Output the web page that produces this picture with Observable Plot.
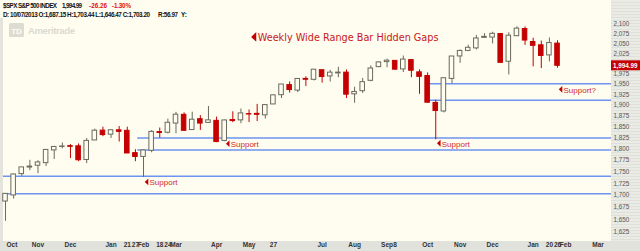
<!DOCTYPE html>
<html><head><meta charset="utf-8">
<script src="https://cdn.jsdelivr.net/npm/d3@7"></script>
<script src="https://cdn.jsdelivr.net/npm/@observablehq/plot@0.6"></script>
<style>html,body{margin:0;padding:0;background:#fffdf0;overflow:hidden;}</style>
</head><body><div id="chart"></div>
<script>
// ---- data (weekly $SPX candles) ----
const weeks = ["2013-10-07","2013-10-14","2013-10-21","2013-10-28","2013-11-04","2013-11-11","2013-11-18","2013-11-25","2013-12-02","2013-12-09","2013-12-16","2013-12-23","2013-12-30","2014-01-06","2014-01-13","2014-01-21","2014-01-27","2014-02-03","2014-02-10","2014-02-18","2014-02-24","2014-03-03","2014-03-10","2014-03-17","2014-03-24","2014-03-31","2014-04-07","2014-04-14","2014-04-21","2014-04-28","2014-05-05","2014-05-12","2014-05-19","2014-05-27","2014-06-02","2014-06-09","2014-06-16","2014-06-23","2014-06-30","2014-07-07","2014-07-14","2014-07-21","2014-07-28","2014-08-04","2014-08-11","2014-08-18","2014-08-25","2014-09-02","2014-09-08","2014-09-15","2014-09-22","2014-09-29","2014-10-06","2014-10-13","2014-10-20","2014-10-27","2014-11-03","2014-11-10","2014-11-17","2014-11-24","2014-12-01","2014-12-08","2014-12-15","2014-12-22","2014-12-29","2015-01-05","2015-01-12","2015-01-20","2015-01-26"];
const opens = [1687.15,1699.86,1745.20,1759.42,1763.40,1769.00,1797.00,1804.80,1806.55,1806.21,
  1776.01,1819.30,1841.52,1832.31,1842.29,1841.05,1791.03,1782.68,1796.20,1838.22,
  1836.78,1857.68,1877.86,1842.81,1867.67,1859.16,1863.92,1818.18,1865.79,1865.00,
  1879.45,1880.03,1876.66,1902.01,1923.87,1948.00,1934.84,1962.92,1960.79,1984.22,
  1969.00,1976.39,1978.25,1926.00,1933.43,1958.36,1991.74,2004.07,2007.17,1986.04,
  2009.08,1978.96,1970.00,1905.65,1885.62,1962.97,2018.21,2032.01,2038.29,2065.07,
  2065.78,2074.84,2005.03,2069.28,2087.63,2054.44,2046.13,2020.76,2050.42];
const highs = [1703.44,1745.31,1759.82,1775.22,1774.54,1798.22,1806.00,1813.55,1810.00,1811.52,
  1823.75,1844.89,1849.44,1843.23,1850.84,1849.31,1798.77,1798.03,1841.65,1847.50,
  1867.92,1883.57,1882.35,1883.97,1875.92,1897.28,1872.53,1865.79,1884.89,1891.33,
  1889.07,1902.17,1901.26,1924.03,1949.44,1955.55,1963.91,1968.17,1985.59,1982.52,
  1983.94,1991.39,1984.85,1942.92,1964.04,1994.76,2005.04,2011.17,2007.71,2019.26,
  2009.08,1985.17,1977.57,1912.09,1965.27,2018.19,2034.26,2046.18,2071.46,2075.76,
  2079.47,2075.78,2077.85,2093.55,2093.10,2064.08,2056.93,2064.62,2057.62];
const lows = [1646.47,1692.13,1740.62,1752.70,1746.20,1761.56,1777.00,1800.60,1779.09,1772.28,
  1767.99,1819.00,1827.74,1823.73,1815.80,1790.29,1772.26,1737.92,1791.83,1824.58,
  1834.00,1834.44,1839.57,1842.75,1842.11,1858.00,1814.36,1816.29,1859.70,1857.36,
  1859.79,1862.36,1868.14,1902.01,1915.98,1929.00,1930.00,1944.69,1958.00,1952.86,
  1955.59,1965.77,1916.00,1904.78,1928.00,1956.00,1990.50,1990.10,1983.50,1978.48,
  1965.99,1926.03,1905.03,1820.66,1882.30,1951.37,2001.01,2030.17,2034.46,2064.75,
  2049.57,2002.33,1972.56,2069.28,2046.04,1992.44,1988.12,2004.49,1989.18];
const closes = [1703.20,1744.50,1759.77,1761.64,1770.61,1798.18,1804.76,1805.81,1805.09,1775.32,
  1818.32,1841.40,1831.37,1842.37,1838.70,1790.29,1782.59,1797.02,1838.63,1836.25,
  1859.45,1878.04,1841.13,1866.52,1857.62,1865.09,1815.69,1864.85,1863.40,1881.14,
  1878.48,1877.86,1900.53,1923.57,1949.44,1936.16,1962.87,1960.96,1985.44,1967.57,
  1978.22,1978.34,1925.15,1931.59,1955.06,1988.40,2003.37,2007.71,1985.54,2010.40,
  1982.85,1967.90,1906.13,1886.76,1964.58,2018.05,2031.92,2039.82,2063.50,2067.56,
  2075.37,2002.33,2070.65,2088.77,2058.20,2044.81,2019.42,2051.82,1994.99];

// hidden-gap support lines
const gapLevels = [1703.44, 1740.62, 1798.03, 1824.58, 1912.09, 1951.37];
const gapStarts = [null, null, "2014-01-29", "2014-01-29", "2014-10-07", "2014-10-07"];

// annotations
const noteDates = ["2014-02-03", "2014-04-14", "2014-10-13", "2015-01-26"];
const notePrices = [1728.6, 1812.2, 1812.9, 1937.8];
const noteTexts = ["Support", "Support", "Support", "Support?"];
const titleText = "Weekly Wide Range Bar Hidden Gaps";
const titleDate = "2014-05-09";
const titlePrice = 2067.5;

// axis ticks
const xTickDates = ["2013-10-07","2013-11-04","2013-12-02","2014-01-06","2014-01-21","2014-01-27","2014-02-03","2014-02-18","2014-02-24","2014-03-03","2014-04-07","2014-05-05","2014-05-27","2014-07-07","2014-08-04","2014-09-02","2014-09-08","2014-10-06","2014-11-03","2014-12-01","2015-01-05","2015-01-20","2015-01-26","2015-02-02","2015-03-02"];
const xTickLabels = ["Oct","Nov","Dec","Jan","21","27","Feb","18","24","Mar","Apr","May","27","Jul","Aug","Sep","8","Oct","Nov","Dec","Jan","20","26","Feb","Mar"];
const yTickValues = [1625,1650,1675,1700,1725,1750,1775,1800,1825,1850,1875,1900,1925,1950,1975,2025,2050,2075,2100];

// header texts
const symbolText = "$SPX S&P 500 INDEX";
const lastText = "1,994.99";
const chgText = "-26.26";
const pctText = "-1.30%";
const infoText = "D: 10/07/2013 O:1,687.15 H:1,703.44 L:1,646.47 C:1,703.20";
const rText = "R:56.97";
const yText = "Y:";

// ---- derived ----
const parse = d3.utcParse("%Y-%m-%d");
const t0 = parse(weeks[0]);
const weekPos = s => (parse(s) - t0) / (7 * 864e5);
const bars = weeks.map((w, k) => ({
  i: Math.round(weekPos(w)), open: opens[k], high: highs[k], low: lows[k], close: closes[k],
  up: closes[k] >= opens[k]
}));
const xDomain = [-0.25, 74.65];
const gaps = gapLevels.map((v, k) => ({level: v, x1: gapStarts[k] ? weekPos(gapStarts[k]) : xDomain[0]}));
const notes = noteDates.map((d, k) => ({x: Math.round(weekPos(d)), y: notePrices[k], text: noteTexts[k]}));
const xticks = xTickDates.map((d, k) => ({i: Math.round(weekPos(d)), label: xTickLabels[k]}));

const RED = "#c40000";
const UPC = "#6a6a5c";
const BG = "#fffdf0";
const leftTri = {draw(ctx, size) {
  const r = Math.sqrt(size / Math.PI);
  ctx.moveTo(-r * 0.6, 0); ctx.lineTo(r * 0.6, -r * 1.15); ctx.lineTo(r * 0.6, r * 1.15); ctx.closePath();
}};

const plot = Plot.plot({
  width: 640, height: 251,
  marginLeft: 3, marginRight: 29, marginTop: 18, marginBottom: 10,
  style: {background: BG, fontFamily: "Liberation Sans"},
  x: {type: "linear", domain: xDomain, axis: null},
  y: {type: "log", domain: [1605.9, 2115.0], axis: null},
  marks: [
    Plot.ruleY(gaps, {y: "level", x1: "x1", x2: xDomain[1], stroke: "#6f93f0", strokeWidth: 1.5}),
    Plot.ruleX(bars, {x: "i", y1: "low", y2: "high", stroke: d => d.up ? UPC : RED, strokeWidth: 1}),
    Plot.rect(bars, {x1: d => d.i - 0.28, x2: d => d.i + 0.28, y1: "open", y2: "close",
      fill: d => d.up ? BG : RED, stroke: d => d.up ? UPC : RED, strokeWidth: 1}),
    Plot.dot(notes, {x: "x", y: "y", symbol: leftTri, r: 3, fill: RED, stroke: null, dx: 3}),
    Plot.text(notes, {x: "x", y: "y", text: "text", textAnchor: "start", dx: 6, dy: 1, fontSize: 8, fill: "#d02828"}),
    Plot.dot([titlePrice], {x: () => weekPos(titleDate), y: d => d, symbol: leftTri, r: 4.3, fill: RED, stroke: null}),
    Plot.text([titleText], {x: () => weekPos(titleDate), y: () => titlePrice, text: d => d, textAnchor: "start", dx: 4, dy: 1,
      fontSize: 9.7, fontFamily: "DejaVu Sans", fill: "#c81818"}),
    Plot.text(yTickValues, {y: d => d, text: d => d3.format(",")(d), frameAnchor: "right", textAnchor: "start", dx: 2,
      fontSize: 6.3, fill: "#555"}),
    Plot.text(xticks.slice(0, 1), {x: "i", text: "label", frameAnchor: "bottom", textAnchor: "start", dx: 1, dy: 5.5,
      fontSize: 6.5, fontWeight: "bold", fill: "#333"}),
    Plot.text(xticks.slice(1), {x: "i", text: "label", frameAnchor: "bottom", dy: 5.5,
      fontSize: 6.5, fontWeight: "bold", fill: "#333"})
  ]
});

const s = d3.select(plot);
// backgrounds (inserted beneath marks)
const defs = s.insert("defs", ":first-child");
const pat = defs.append("pattern").attr("id", "stripes").attr("width", 4).attr("height", 3).attr("patternUnits", "userSpaceOnUse");
pat.append("rect").attr("width", 4).attr("height", 3).attr("fill", "#ebebe6");
pat.append("rect").attr("y", 2).attr("width", 4).attr("height", 1).attr("fill", "#e0e0da");
const bgG = s.insert("g", "defs + *").attr("text-anchor", "start");
bgG.append("rect").attr("x", 611).attr("y", 0).attr("width", 29).attr("height", 241).attr("fill", "url(#stripes)");
bgG.append("rect").attr("x", 0).attr("y", 241).attr("width", 640).attr("height", 10).attr("fill", "#e2e2dc");
bgG.append("rect").attr("x", 0).attr("y", 18).attr("width", 3).attr("height", 223).attr("fill", "#e4e4dc");
// watermark
bgG.append("rect").attr("x", 9).attr("y", 23).attr("width", 15).attr("height", 14).attr("rx", 1.5).attr("fill", "#dcdcd2");
bgG.append("text").attr("x", 16.5).attr("y", 33.5).attr("text-anchor", "middle").attr("font-size", 8).attr("font-weight", "bold")
  .attr("font-family", "Liberation Sans").attr("fill", BG).text("TD");
bgG.append("text").attr("x", 28).attr("y", 34).attr("font-size", 9.5).attr("font-weight", "bold").attr("textLength", 47)
  .attr("font-family", "Liberation Sans").attr("fill", "#dadad0").text("Ameritrade");

// header
const hg = s.append("g").attr("text-anchor", "start").attr("font-family", "Liberation Sans").attr("font-weight", "bold").attr("font-size", 6.3);
hg.append("text").attr("x", 3).attr("y", 7.5).attr("textLength", 54).attr("fill", "#111").text(symbolText);
hg.append("text").attr("x", 62).attr("y", 7.5).attr("textLength", 20).attr("fill", "#111").text(lastText);
hg.append("text").attr("x", 89).attr("y", 7.5).attr("textLength", 18).attr("fill", "#e01010").text(chgText);
hg.append("text").attr("x", 112).attr("y", 7.5).attr("textLength", 19).attr("fill", "#e01010").text(pctText);
hg.append("text").attr("x", 3).attr("y", 16.5).attr("textLength", 147).attr("fill", "#111").text(infoText);
hg.append("text").attr("x", 158).attr("y", 16.5).attr("textLength", 20).attr("fill", "#111").text(rText);
hg.append("text").attr("x", 181).attr("y", 16.5).attr("fill", "#111").text(yText);

// last price tag on the price axis
const ty = plot.scale("y").apply(closes[closes.length - 1]);
const tag = s.append("g").attr("text-anchor", "start");
tag.append("rect").attr("x", 611).attr("y", ty - 5).attr("width", 29).attr("height", 10).attr("fill", RED);
tag.append("text").attr("x", 613).attr("y", ty + 2.2).attr("font-size", 6.3).attr("font-weight", "bold")
  .attr("font-family", "Liberation Sans").attr("fill", "#fff").text(d3.format(",.2f")(closes[closes.length - 1]));

document.getElementById("chart").append(plot);
</script></body></html>
